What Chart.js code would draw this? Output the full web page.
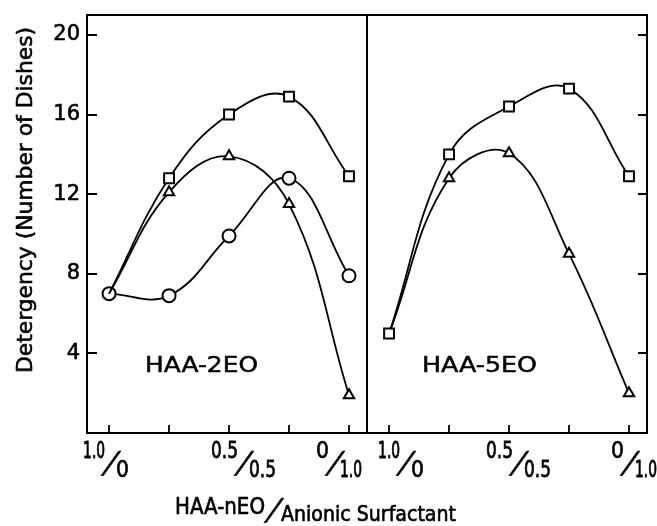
<!DOCTYPE html>
<html><head><meta charset="utf-8">
<script src="https://cdn.jsdelivr.net/npm/chart.js@4.4.1/dist/chart.umd.min.js"></script>
<style>
html,body{margin:0;padding:0;background:#fff;}
#wrap{position:relative;width:657px;height:526px;background:#fff;}
canvas{position:absolute;left:0;top:0;}
</style></head><body>
<div id="wrap"><canvas id="c1" width="657" height="526"></canvas><canvas id="c2" width="657" height="526"></canvas></div>
<script>
// ---- data ----
const ratios = [1.0, 0.75, 0.5, 0.25, 0];          // HAA-nEO share of the mixture
const eo2Squares   = [7, 12.8, 16.0, 16.9, 12.9];
const eo2Triangles = [7, 12.1, 13.9, 11.5, 1.9];
const eo2Circles   = [7, 6.9, 9.9, 12.8, 7.9];
const eo5Squares   = [5, 14.0, 16.4, 17.3, 12.9];
const eo5Triangles = [5, 12.8, 14.05, 9.0, 2.0];
const yTickValues = [4, 8, 12, 16, 20];
const xTickValues = [1.0, 0.75, 0.5, 0.25, 0];
const xLabelValues = [1.0, 0.5, 0];
const xLabelNum = ['1.0', '0.5', '0'];
const xLabelDen = ['0', '0.5', '1.0'];
const yTitle = 'Detergency (Number of Dishes)';
const xTitleA = 'HAA-nEO', xTitleB = 'Anionic Surfactant';

const FAM = '"DejaVu Sans", "Liberation Sans", sans-serif';
const font = (sz) => sz + 'px ' + FAM;
const numW = { '1.0': 22, '0.5': 27, '0': 13 };
const STROKE = 0.6;

function pts(vals){ return ratios.map((r,i)=>({x:r, y:vals[i]})); }

function ds(vals, style, radii){
  return {
    data: pts(vals), borderColor:'#000', borderWidth:1.8, tension:0.4, fill:false,
    pointStyle: style, pointRadius: radii, pointHoverRadius: radii,
    pointBackgroundColor:'#fff', pointBorderColor:'#000', pointBorderWidth:2,
    clip:false
  };
}

// text squeezed/stretched horizontally to a target width (left aligned at x), slightly emboldened
function fitText(ctx, text, x, y, w, skew){
  const m = ctx.measureText(text).width;
  ctx.save();
  ctx.translate(x, y);
  if (skew) ctx.transform(1, 0, skew, 1, 0, 0);
  ctx.scale(w / m, 1);
  ctx.textAlign = 'left';
  ctx.fillStyle = '#000';
  ctx.strokeStyle = '#000';
  ctx.lineWidth = STROKE / (w / m);
  ctx.lineJoin = 'round';
  ctx.fillText(text, 0, 0);
  ctx.strokeText(text, 0, 0);
  ctx.restore();
}

function drawFrac(ctx, cx, num, den){
  ctx.save();
  ctx.textBaseline = 'alphabetic';
  ctx.font = font(23);
  fitText(ctx, num, cx - 4 - numW[num], 458, numW[num]);
  ctx.font = font(30);
  const sw = ctx.measureText('/').width;
  fitText(ctx, '/', cx - sw / 2 - 2, 473, sw, -0.4);
  ctx.font = font(23);
  fitText(ctx, den, cx + 7, 477, numW[den]);
  ctx.restore();
}

function framePlugin(cfg){
  return {
    id: 'frame',
    afterDraw(chart){
      const ctx = chart.ctx, a = chart.chartArea;
      const xs = chart.scales.x, ys = chart.scales.y;
      ctx.save();
      ctx.strokeStyle = '#000';
      ctx.lineWidth = 2;
      ctx.strokeRect(a.left, a.top, a.right - a.left, a.bottom - a.top);
      ctx.lineWidth = 1.8;
      ctx.beginPath();
      yTickValues.forEach(v=>{
        const y = Math.round(ys.getPixelForValue(v));
        if (cfg.ySide === 'left'){ ctx.moveTo(a.left, y); ctx.lineTo(a.left + 10, y); }
        else { ctx.moveTo(a.right, y); ctx.lineTo(a.right - 9, y); }
      });
      xTickValues.forEach(v=>{
        const x = Math.round(xs.getPixelForValue(v));
        ctx.moveTo(x, a.bottom); ctx.lineTo(x, a.bottom - 8);
      });
      ctx.stroke();
      xLabelValues.forEach((v,i)=>{
        drawFrac(ctx, xs.getPixelForValue(v) + cfg.labelDx[i], xLabelNum[i], xLabelDen[i]);
      });
      // panel label
      ctx.font = font(21);
      ctx.textBaseline = 'alphabetic';
      fitText(ctx, cfg.panel, a.left + cfg.panelDx, 372, cfg.panelW);
      if (cfg.titles){
        // y title
        ctx.save();
        ctx.translate(32, 373);
        ctx.rotate(-Math.PI/2);
        ctx.font = font(22);
        ctx.textBaseline = 'alphabetic';
        fitText(ctx, yTitle, 0, 0, 346);
        ctx.restore();
        // x title
        ctx.font = font(23);
        fitText(ctx, xTitleA, 175, 514, 90);
        ctx.font = font(30);
        const sw = ctx.measureText('/').width;
        fitText(ctx, '/', 265, 520, sw, -0.4);
        ctx.font = font(21);
        fitText(ctx, xTitleB, 281, 521, 175);
      }
      ctx.restore();
    }
  };
}

function makeChart(id, datasets, pad, cfg, showY){
  return new Chart(document.getElementById(id), {
    type: 'line',
    data: { datasets },
    options: {
      responsive:false, animation:false, devicePixelRatio:1,
      layout:{ padding: pad },
      plugins:{ legend:{display:false}, tooltip:{enabled:false} },
      events: [],
      scales:{
        x:{ type:'linear', min:-0.075, max:1.092, reverse:true,
            grid:{display:false, drawTicks:false}, border:{display:false}, ticks:{display:false},
            afterFit: s => { s.height = 93; s.paddingLeft = 0; s.paddingRight = 0; } },
        y:{ type:'linear', min:0, max:21, display: showY,
            grid:{display:false, drawTicks:false}, border:{display:false},
            afterBuildTicks: s => { s.ticks = yTickValues.map(v=>({value:v})); },
            ticks:{ color:'#000', padding:7, font:{family:FAM, size:21},
                    textStrokeColor:'#000', textStrokeWidth:STROKE },
            afterFit: s => { s.width = showY ? 87 : 0; s.paddingTop = 0; s.paddingBottom = 0; } }
      }
    },
    plugins:[framePlugin(cfg)]
  });
}

makeChart('c1', [
  ds(eo2Squares, 'rect', [0,7,7,7,7]),
  ds(eo2Triangles, 'triangle', [0,6,6,6,6]),
  ds(eo2Circles, 'circle', [6.5,6.5,6.5,6.5,6.5])
], {left:0, right:290, top:15, bottom:0},
{ ySide:'left', labelDx:[0, 13, -16], panel:'HAA-2EO', panelDx:58, panelW:113, titles:true }, true);

makeChart('c2', [
  ds(eo5Squares, 'rect', [7,7,7,7,7]),
  ds(eo5Triangles, 'triangle', [0,6,6,6,6])
], {left:367, right:10, top:15, bottom:0},
{ ySide:'right', labelDx:[15, 8, -1], panel:'HAA-5EO', panelDx:55, panelW:115, titles:false }, false);
</script>
</body></html>
